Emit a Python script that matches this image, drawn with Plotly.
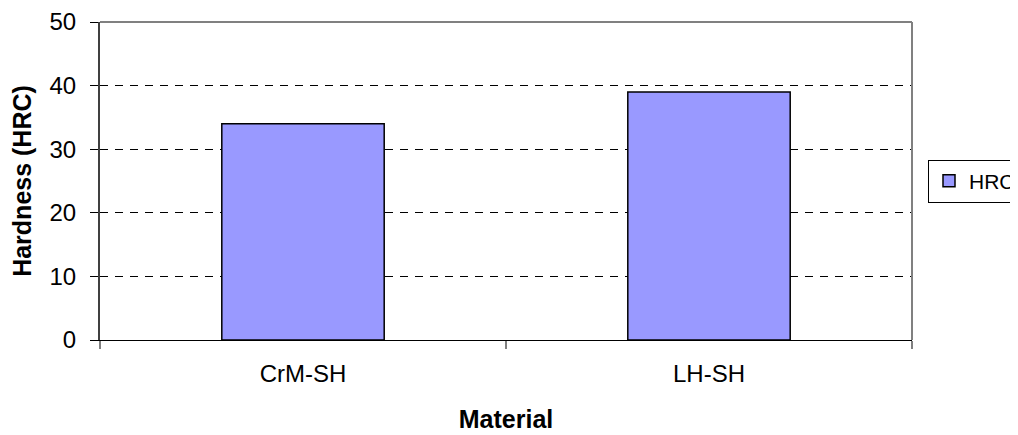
import plotly.graph_objects as go

materials = ["CrM-SH", "LH-SH"]
hrc = [34, 39]
series_name = "HRC"
y_ticks = [0, 10, 20, 30, 40, 50]

FONT = "Liberation Sans, Arial, sans-serif"

fig = go.Figure()
fig.add_trace(go.Bar(
    x=materials, y=hrc, name=series_name,
    marker=dict(color="#9999FF", line=dict(color="black", width=1.5)),
    showlegend=True,
))

fig.update_layout(
    width=1010, height=427,
    margin=dict(l=92, r=106, t=14, b=95, autoexpand=False),
    paper_bgcolor="white", plot_bgcolor="white",
    bargap=0.6,
    font=dict(family=FONT, color="black", size=22),
    showlegend=True,
    legend=dict(
        x=1.0197, y=0.5, xanchor="left", yanchor="middle",
        bordercolor="black", borderwidth=1, bgcolor="white",
        font=dict(family=FONT, size=21, color="black"),
        itemwidth=30,
    ),
    xaxis=dict(
        title=dict(text="<b>Material</b>", font=dict(family=FONT, size=25), standoff=24),
        tickfont=dict(family=FONT, size=24),
        showline=True, linecolor="black", linewidth=1,
        ticks="outside", ticklen=8, tickcolor="#808080", tickwidth=2,
        tickson="boundaries", showgrid=False,
        ticklabelstandoff=12,
    ),
    yaxis=dict(
        title=dict(text="<b>Hardness (HRC)</b>", font=dict(family=FONT, size=25), standoff=14),
        tickfont=dict(family=FONT, size=24),
        range=[0, 50], tickvals=y_ticks,
        showline=True, linecolor="#404040", linewidth=2,
        ticks="outside", ticklen=8, tickcolor="black", tickwidth=1,
        showgrid=True, gridcolor="black", gridwidth=1, griddash="8px,7px",
        zeroline=False,
        ticklabelstandoff=9,
    ),
    shapes=[
        dict(type="line", xref="paper", yref="paper", x0=0, x1=1, y0=1, y1=1,
             line=dict(color="#808080", width=2)),
        dict(type="line", xref="paper", yref="paper", x0=1, x1=1, y0=0, y1=1,
             line=dict(color="#808080", width=2)),
    ],
)

fig.write_html("out.html")
